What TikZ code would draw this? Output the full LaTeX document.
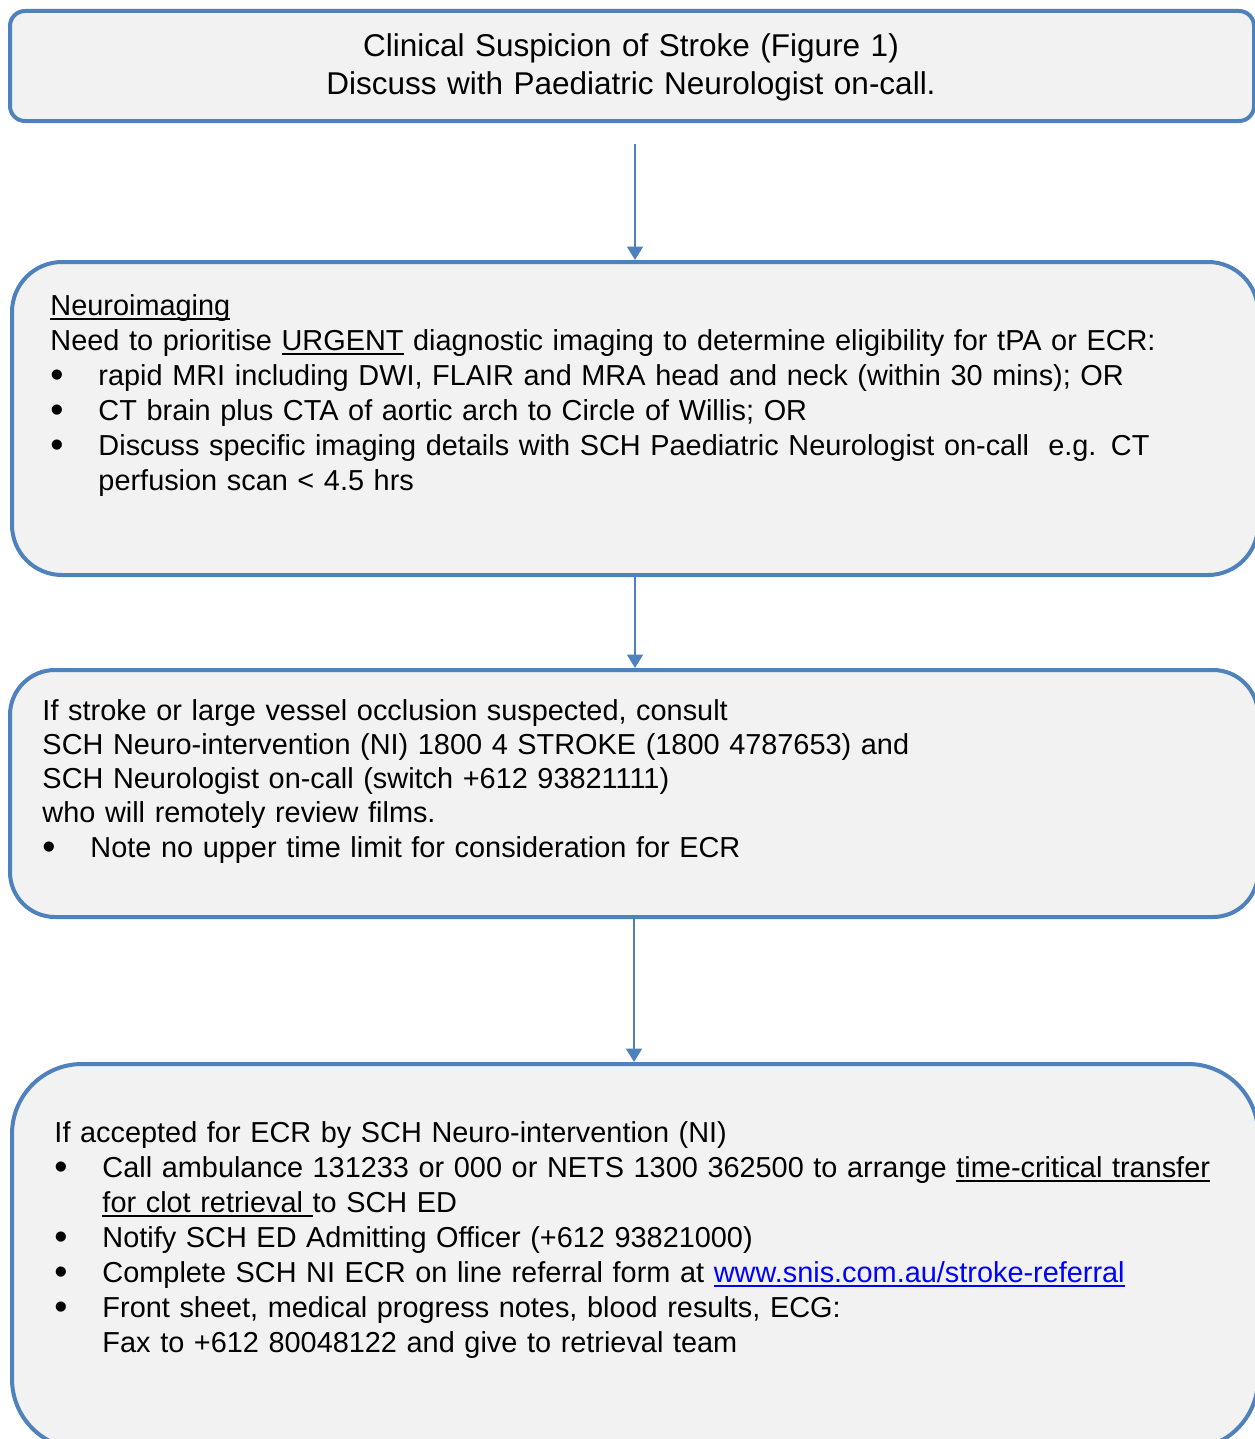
\documentclass[tikz,border=0pt]{standalone}
\usepackage{fontspec}
\setmainfont{Liberation Sans}
\usepackage{xcolor}
\usepackage{tikz}
\usetikzlibrary{shapes, arrows.meta, positioning}

\definecolor{boxblue}{HTML}{4F81BD}
\definecolor{boxgrey}{HTML}{F2F2F2}
\definecolor{linkblue}{HTML}{0000FF}

% underline sitting close under the baseline
\newcommand{\ulin}[1]{\setbox0\hbox{#1}\rlap{\rule[-2pt]{\wd0}{0.9pt}}\box0\relax}
% bullet line with hanging indent
\newcommand{\bul}[1]{\par\hangindent=19.2pt\hangafter=1\noindent\makebox[19.2pt][l]{\raisebox{-0.8pt}{\scalebox{1.3}{\textbullet}}}#1\par}

\tikzset{
  box/.style={draw=boxblue, line width=1.6pt, fill=boxgrey, anchor=north west, inner sep=0pt},
  txt/.style={anchor=base west, inner sep=0pt, text width=478pt, align=left, font=\fontsize{11.55}{14}\selectfont},
  flow/.style={draw=boxblue, line width=0.8pt, -{Triangle[length=5.4pt, width=6.4pt]}}
}

\begin{document}
\begin{tikzpicture}[x=0.4pt, y=-0.4pt]
  \useasboundingbox (0,0) rectangle (1254,1439);

  % boxes
  \node[box, rounded corners=6pt, minimum width=497.6pt, minimum height=44pt] (clinical) at (8,9) {};
  \node[box, rounded corners=20pt, minimum width=498.4pt, minimum height=125.2pt] (neuro) at (10,260) {};
  \node[box, rounded corners=18pt, minimum width=499.2pt, minimum height=98.8pt] (consult) at (8,668) {};
  \node[box, rounded corners=28pt, minimum width=498.4pt, minimum height=154pt] (accepted) at (10,1062) {};

  % texts
  \node[anchor=base, inner sep=0pt, text width=478pt, align=center, font=\fontsize{12.6}{15}\selectfont] (clinicaltxt) at (631,57)
    {Clinical Suspicion of Stroke (Figure 1)\\Discuss with Paediatric Neurologist on-call.};

  \node[txt] (neurotxt) at (50,315) {\ulin{Neuroimaging}\newline
    Need to prioritise \ulin{URGENT} diagnostic imaging to determine eligibility for tPA or ECR:
    \bul{rapid MRI including DWI, FLAIR and MRA head and neck (within 30 mins); OR}
    \bul{CT brain plus CTA of aortic arch to Circle of Willis; OR}
    \bul{Discuss specific imaging details with SCH Paediatric Neurologist on-call\ \ e.g. CT\newline perfusion scan < 4.5 hrs}};

  \node[txt, font=\fontsize{11.55}{13.7}\selectfont] (consulttxt) at (42,720) {If stroke or large vessel occlusion suspected, consult\newline
    SCH Neuro-intervention (NI) 1800 4 STROKE (1800 4787653) and\newline
    SCH Neurologist on-call (switch +612 93821111)\newline
    who will remotely review films.
    \bul{Note no upper time limit for consideration for ECR}};

  \node[txt] (acceptedtxt) at (54,1142) {If accepted for ECR by SCH Neuro-intervention (NI)
    \bul{Call ambulance 131233 or 000 or NETS 1300 362500 to arrange \ulin{time-critical transfer}\newline \ulin{for clot retrieval\ }to SCH ED}
    \bul{Notify SCH ED Admitting Officer (+612 93821000)}
    \bul{Complete SCH NI ECR on line referral form at {\color{linkblue}\ulin{www.snis.com.au/stroke-referral}}}
    \bul{Front sheet, medical progress notes, blood results, ECG:\newline Fax to +612 80048122 and give to retrieval team}};

  % arrows
  \draw[flow, shorten <=8.4pt] (neuro.north |- clinical.south) -- (neuro.north);
  \draw[flow] (neuro.south) -- (neuro.south |- consult.north);
  \draw[flow] (consult.south) -- (consult.south |- accepted.north);
\end{tikzpicture}
\end{document}
